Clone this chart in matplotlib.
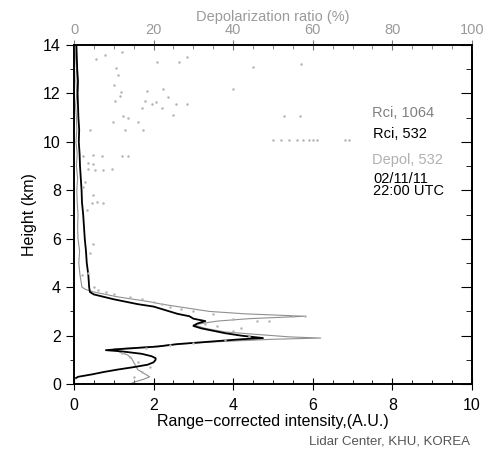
import matplotlib.pyplot as plt
from matplotlib.ticker import MultipleLocator

plt.rcParams['font.family'] = ['Liberation Sans', 'DejaVu Sans']

# Rci 532 (black)
h532 = [0.25, 0.3, 0.4, 0.5, 0.6, 0.7, 0.8, 0.9, 1.0, 1.07, 1.15, 1.25, 1.35, 1.4, 1.45,
        1.55, 1.65, 1.75, 1.85, 1.9, 2.0, 2.1, 2.2, 2.3, 2.4, 2.5, 2.6, 2.7, 2.8, 2.9,
        3.0, 3.1, 3.2, 3.3, 3.4, 3.5, 3.6, 3.7, 3.8, 3.9, 4.0, 4.5, 5.0, 5.5, 6.0, 6.5,
        7.0, 7.5, 8.0, 8.5, 9.0, 9.5, 10.0, 10.5, 11.0, 11.5, 12.0, 12.5, 13.0, 13.5, 14.0]
r532 = [0.05, 0.1, 0.45, 0.75, 1.1, 1.5, 1.85, 2.0, 2.05, 2.05, 1.95, 1.7, 1.2, 0.8, 1.2,
        2.1, 2.6, 3.4, 4.2, 4.75, 4.2, 3.8, 3.5, 3.2, 3.0, 3.1, 3.3, 3.0, 2.9, 2.6,
        2.4, 2.2, 2.0, 1.6, 1.3, 1.0, 0.75, 0.5, 0.4, 0.39, 0.38, 0.36, 0.32, 0.3, 0.27, 0.25,
        0.23, 0.2, 0.19, 0.17, 0.15, 0.14, 0.12, 0.13, 0.11, 0.1, 0.09, 0.1, 0.08, 0.07, 0.06]

# Rci 1064 (gray)
h1064 = [0.0, 0.1, 0.2, 0.3, 0.45, 0.6, 0.75, 0.9, 1.05, 1.2, 1.35, 1.45, 1.55, 1.65, 1.75,
         1.85, 1.9, 1.95, 2.05, 2.15, 2.3, 2.45, 2.6, 2.7, 2.8, 2.9, 3.0, 3.1, 3.2, 3.3,
         3.4, 3.5, 3.6, 3.7, 3.8, 3.9, 4.0, 4.5, 5.0, 5.5, 6.0, 6.5, 7.0, 7.5, 8.0, 8.5,
         9.0, 9.5, 10.0, 10.5, 11.0, 11.5, 12.0, 12.5, 13.0, 13.5, 14.0]
r1064 = [1.4, 1.55, 1.75, 1.9, 1.75, 1.6, 1.55, 1.5, 1.45, 1.35, 1.1, 1.0, 2.0, 2.6, 3.6,
         5.0, 6.2, 5.4, 4.6, 3.8, 3.3, 3.0, 3.6, 4.4, 5.8, 4.3, 3.4, 3.0, 2.6, 2.2,
         1.9, 1.5, 1.1, 0.8, 0.5, 0.3, 0.2, 0.15, 0.12, 0.14, 0.1, 0.09, 0.1, 0.08, 0.07, 0.09,
         0.06, 0.08, 0.05, 0.07, 0.06, 0.04, 0.07, 0.05, 0.06, 0.04, 0.05]

# Depol 532 (light gray dots), height in km and ratio in %
hdep = [0.3, 0.5, 0.7, 0.9, 1.1, 1.3, 1.5, 1.6, 1.7, 1.8, 2.0, 2.2, 2.3, 2.4, 2.5, 2.6,
        2.6, 2.7, 2.8, 2.8, 2.9, 3.0, 3.1, 3.2, 3.3, 3.4, 3.5, 3.6, 3.7, 3.8, 3.9, 4.0,
        4.5, 4.6, 5.4, 5.8, 7.19, 7.47, 7.52, 7.48, 7.8, 8.14, 8.35, 8.85, 8.85, 8.88, 8.88,
        9.1, 9.13, 9.4, 9.46, 9.4, 9.4, 9.4,
        10.08, 10.08, 10.08, 10.08, 10.08, 10.08, 10.08, 10.08, 10.08, 10.08,
        10.5, 10.5, 10.5, 10.8, 10.8, 11.0, 11.07, 11.1, 11.07, 11.07, 11.4, 11.4, 11.57,
        11.57, 11.57, 11.65, 11.7, 11.7, 11.86, 11.9, 12.05, 12.08, 12.2, 12.2, 12.36,
        12.77, 13.05, 13.1, 13.2, 13.3, 13.3, 13.4, 13.5, 13.6, 13.7]
dep = [15, 17, 19, 16, 14, 12, 18, 24, 30, 38, 44, 40, 42, 36, 33, 46,
       49, 40, 55, 58, 35, 30, 27, 24, 22, 20, 17, 14, 10, 8, 6, 5,
       2, 3.5, 4, 4.8, 3.3, 4.5, 5.8, 7.3, 4.8, 2.3, 2.8, 5.3, 7.3, 3.6, 9.5,
       4.8, 3.6, 2.3, 4.8, 7, 12, 13.6,
       50, 52, 54, 56, 57.5, 59, 60, 61, 68, 69,
       4, 12.8, 17.3, 9.9, 16, 13.5, 12.4, 25, 52.8, 56.8, 22, 17, 19.6,
       25.6, 28.4, 20.6, 17.8, 10.3, 23.6, 11.6, 11.8, 18.4, 22.4, 40, 10,
       11, 10.5, 45, 57, 20.9, 26.4, 5.5, 28.5, 7.8, 12]

fig = plt.figure(figsize=(4.87, 4.54), dpi=100)
ax = fig.add_axes([0.152, 0.154, 0.817, 0.747])

ax.plot(r1064, h1064, color='#909090', lw=0.8)
ax.plot(r532, h532, color='black', lw=1.3)

ax.set_xlim(0, 10)
ax.set_ylim(0, 14)
ax.xaxis.set_major_locator(MultipleLocator(2))
ax.xaxis.set_minor_locator(MultipleLocator(0.5))
ax.yaxis.set_major_locator(MultipleLocator(2))
ax.yaxis.set_minor_locator(MultipleLocator(1))
ax.tick_params(axis='x', which='major', direction='inout', length=8, labelsize=11.5, pad=6)
ax.tick_params(axis='x', which='minor', direction='in', length=3)
ax.tick_params(axis='y', which='major', direction='out', length=6, labelsize=11.5)
ax.tick_params(axis='y', which='minor', direction='out', length=3)
ax.set_xlabel('Range\u2212corrected intensity,(A.U.)', fontsize=11.5, labelpad=1)
ax.set_ylabel('Height (km)', fontsize=11.5, labelpad=4)

secy = ax.secondary_yaxis('right')
secy.yaxis.set_major_locator(MultipleLocator(2))
secy.yaxis.set_minor_locator(MultipleLocator(1))
secy.tick_params(which='major', direction='in', length=8, labelright=False)
secy.tick_params(which='minor', direction='in', length=4)

ax2 = ax.twiny()
ax2.plot(dep, hdep, ls='none', marker='.', ms=1.6, color='#b4b4b4')
ax2.set_xlim(0, 100)
ax2.xaxis.set_major_locator(MultipleLocator(20))
ax2.xaxis.set_minor_locator(MultipleLocator(5))
ax2.tick_params(which='major', direction='inout', length=7, labelsize=10.5,
                labelcolor='#9a9a9a', color='#777777', pad=2)
ax2.tick_params(which='minor', direction='in', length=3, color='#777777')
ax2.set_xlabel('Depolarization ratio (%)', fontsize=10.5, color='#9a9a9a', labelpad=2)

for s in ['left', 'right', 'top', 'bottom']:
    ax.spines[s].set_linewidth(1.2)
    ax2.spines[s].set_linewidth(1.2)
secy.spines['right'].set_linewidth(1.2)

fs = 10.5
ax.text(0.749, 0.799, 'Rci, 1064', transform=ax.transAxes, fontsize=fs, color='#808080', va='center')
ax.text(0.752, 0.737, 'Rci, 532', transform=ax.transAxes, fontsize=fs, color='black', va='center')
ax.text(0.749, 0.661, 'Depol, 532', transform=ax.transAxes, fontsize=fs, color='#b0b0b0', va='center')
ax.text(0.752, 0.586, '02/11/11\n22:00 UTC', transform=ax.transAxes, fontsize=fs,
        color='black', linespacing=0.8, va='center')

fig.text(0.965, 0.02, 'Lidar Center, KHU, KOREA', ha='right', fontsize=9.5, color='#555555')

fig.savefig('out.png', dpi=100)
